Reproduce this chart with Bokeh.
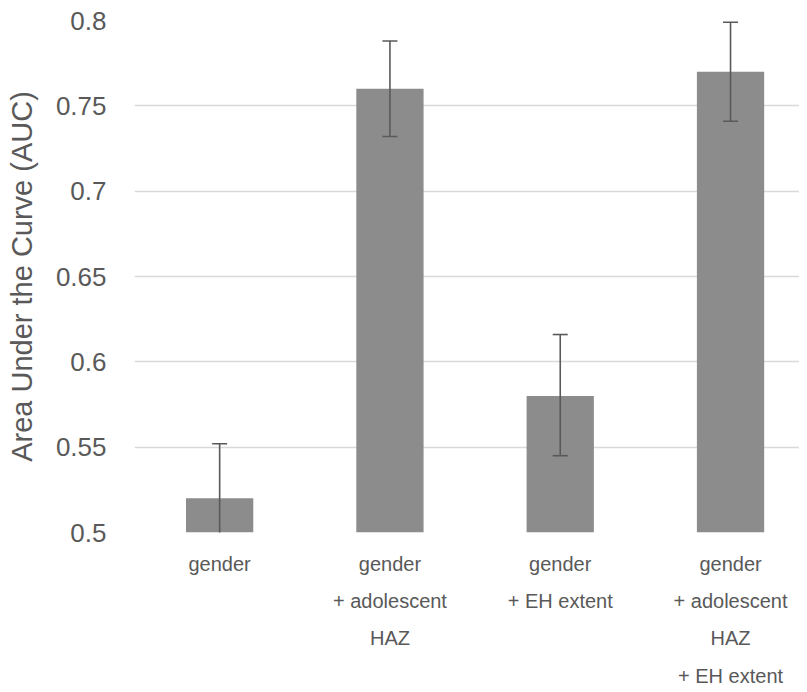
from bokeh.plotting import figure
from bokeh.models import Range1d, FixedTicker, ColumnDataSource
from bokeh.embed import file_html
from bokeh.resources import INLINE

categories = ["gender", "gender\n+ adolescent\nHAZ", "gender\n+ EH extent",
              "gender\n+ adolescent\nHAZ\n+ EH extent"]
auc = [0.52, 0.76, 0.58, 0.77]
err_low = [0.488, 0.732, 0.545, 0.741]
err_high = [0.552, 0.788, 0.616, 0.799]
y_ticks = [0.5, 0.55, 0.6, 0.65, 0.7, 0.75, 0.8]
y_tick_labels = ["0.5", "0.55", "0.6", "0.65", "0.7", "0.75", "0.8"]

xs = [i + 0.5 for i in range(len(categories))]
src = ColumnDataSource(dict(x=xs, top=auc, lo=err_low, hi=err_high))

TEXT = "#595959"
FONT = "Liberation Sans"

p = figure(width=799, height=690, output_backend="svg", toolbar_location=None,
           x_range=Range1d(0, 3.905), y_range=Range1d(0.5, 0.8),
           min_border_left=134, min_border_top=20, min_border_right=0,
           min_border_bottom=158)
p.outline_line_color = None
p.background_fill_color = "white"

p.vbar(x="x", top="top", bottom=0.5, width=0.395, source=src,
       fill_color="#8c8c8c", line_color=None)
p.segment(x0="x", y0="lo", x1="x", y1="hi", source=src,
          line_color="#595959", line_width=1.6)
p.scatter(x="x", y="hi", source=src, marker="dash", size=15,
          line_color="#595959", line_width=1.6)
p.scatter(x="x", y="lo", source=src, marker="dash", size=15,
          line_color="#595959", line_width=1.6)

# axes
p.xaxis.ticker = FixedTicker(ticks=xs)
p.xaxis.major_label_overrides = {x: c for x, c in zip(xs, categories)}
p.yaxis.ticker = FixedTicker(ticks=y_ticks)
p.yaxis.major_label_overrides = {t: l for t, l in zip(y_ticks, y_tick_labels)}
for ax in (p.xaxis, p.yaxis):
    ax.axis_line_color = None
    ax.major_tick_line_color = None
    ax.minor_tick_line_color = None
    ax.major_tick_in = 0
    ax.major_tick_out = 0
    ax.major_label_text_color = TEXT
    ax.major_label_text_font = FONT
p.xaxis.major_label_text_font_size = "20px"
p.xaxis.major_label_text_line_height = 1.7
p.xaxis.major_label_standoff = 20
p.yaxis.major_label_text_font_size = "26px"
p.yaxis.major_label_standoff = 28
p.yaxis.axis_label = "Area Under the Curve (AUC)"
p.yaxis.axis_label_text_font = FONT
p.yaxis.axis_label_text_font_size = "29px"
p.yaxis.axis_label_text_font_style = "normal"
p.yaxis.axis_label_text_color = TEXT
p.yaxis.axis_label_standoff = 15

p.xgrid.grid_line_color = None
p.ygrid.ticker = FixedTicker(ticks=y_ticks)
p.ygrid.grid_line_color = "#d9d9d9"
p.ygrid.grid_line_width = 1.5

open("out.html", "w").write(file_html(p, INLINE))
